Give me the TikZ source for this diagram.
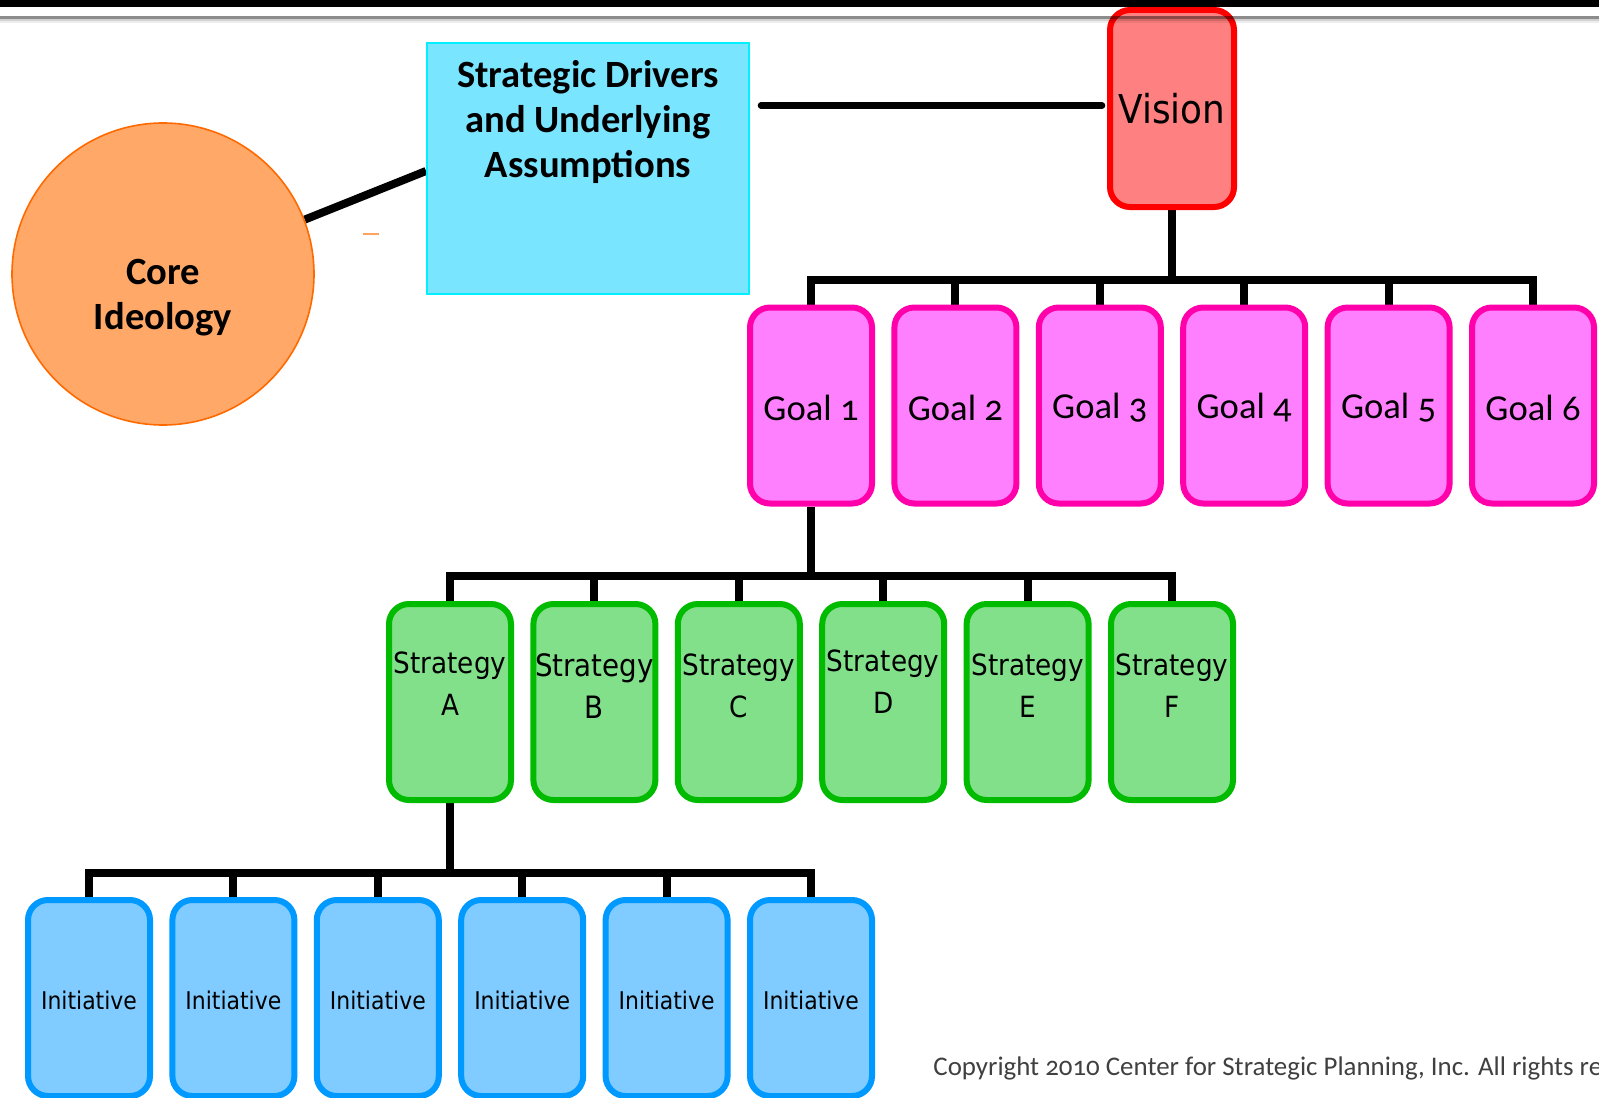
\documentclass[tikz,border=0pt]{standalone}
\usepackage{fontspec}
\setmainfont{Carlito}
\newfontfamily\boxfont[FakeStretch=0.9]{DejaVu Sans}
\newfontfamily\oldfont[Numbers=OldStyle]{Carlito}
\usetikzlibrary{backgrounds}

\definecolor{visionfill}{HTML}{FF8080}
\definecolor{visionline}{HTML}{FF0000}
\definecolor{goalfill}{HTML}{FF80FF}
\definecolor{goalline}{HTML}{FF00AA}
\definecolor{stratfill}{HTML}{82E08A}
\definecolor{stratline}{HTML}{00BB00}
\definecolor{initfill}{HTML}{80CBFF}
\definecolor{initline}{HTML}{0099FF}
\definecolor{driverfill}{HTML}{7AE5FF}
\definecolor{driverline}{HTML}{00F0FF}
\definecolor{corefill}{HTML}{FFA868}
\definecolor{coreline}{HTML}{FF6A00}
\definecolor{copygray}{HTML}{404040}

\begin{document}
\begin{tikzpicture}[x=0.5pt,y=-0.5pt,
  box/.style={rectangle, rounded corners=10pt, line width=3pt,
    minimum width=61pt, minimum height=98pt, inner sep=0pt, align=center},
  visionbox/.style={box, draw=visionline, fill=visionfill,
    minimum width=62pt, minimum height=98.5pt,
    font=\boxfont\fontsize{19.9}{24}\selectfont},
  goalbox/.style={box, draw=goalline, fill=goalfill},
  goaltext/.style={inner sep=0pt, font=\oldfont\fontsize{18.3}{22}\selectfont},
  stratbox/.style={box, draw=stratline, fill=stratfill},
  strattext/.style={inner sep=0pt, align=center,
    font=\boxfont\fontsize{14.6}{21}\selectfont},
  initbox/.style={box, draw=initline, fill=initfill},
  inittext/.style={inner sep=0pt, font=\boxfont\fontsize{12.2}{15}\selectfont},
  link/.style={line width=4pt, black},
  boldtext/.style={inner sep=0pt, align=center,
    font=\bfseries\fontsize{19.3}{22.5}\selectfont},
]
\useasboundingbox (0,0) rectangle (1599,1097);
\clip (0,0) rectangle (1599,1097);

% ---- left: core ideology and strategic drivers
\node[circle, draw=coreline, fill=corefill, line width=0.8pt,
  minimum size=151pt, inner sep=0pt] (core) at (163,274) {};
\node[boldtext] (coretext) at (163,298) {Core\\Ideology};

\node[rectangle, draw=driverline, fill=driverfill, line width=1pt,
  minimum width=161pt, minimum height=125.5pt, inner sep=0pt] (drivers) at (588,168.5) {};
\node[boldtext] (driverstext) at (588,122)
  {Strategic Drivers\\and Underlying\\Assumptions};

\draw[line width=1pt, corefill!90!orange] (363,234) -- (379,234);

% ---- vision
\node[visionbox] (vision) at (1172,108.5) {Vision};

% ---- goals
\foreach \i/\x in {1/811,2/955.4,3/1099.8,4/1244.2,5/1388.6,6/1533}{
  \node[goalbox] (g\i) at (\x,405.5) {};
  \node[goaltext] (g\i text) at ([yshift=-1pt]g\i.center) {Goal \i};
}

% ---- strategies
\foreach \i/\x/\l/\sz/\dy in {1/450/A/14.6/9, 2/594.4/B/15.4/8,
    3/738.8/C/14.6/8, 4/883.2/D/14.6/10, 5/1027.6/E/14.6/8, 6/1172/F/14.6/8}{
  \node[stratbox] (s\i) at (\x,702) {};
  \node[strattext, font=\boxfont\fontsize{\sz}{21}\selectfont]
    (s\i text) at ([yshift=\dy pt]s\i.center) {Strategy\\\l};
}

% ---- initiatives
\foreach \i/\x in {1/89,2/233.4,3/377.8,4/522.2,5/666.6,6/811}{
  \node[initbox] (n\i) at (\x,998) {};
  \node[inittext] (n\i text) at ([yshift=-1pt]n\i.center) {Initiative};
}

% ---- copyright line
\node[anchor=base west, inner sep=0pt, text=copygray,
  font=\oldfont\fontsize{13.45}{16}\selectfont] (copy) at (933,1075)
  {Copyright 2010 Center for Strategic Planning, Inc. All rights reserved.};

% ---- connectors, kept behind the boxes
\begin{scope}[on background layer]
  \fill[white] (0,0) rectangle (1599,1097);
  \coordinate (vbar) at (0,279.5);
  \coordinate (sbar) at (0,576);
  \coordinate (ibar) at (0,873);

  \draw[line width=4pt] (core.21) -- ([yshift=-1.25pt]drivers.west);
  \coordinate (dvL) at ([xshift=5.5pt,yshift=1.5pt]drivers.east |- vision.west);
  \coordinate (dvR) at ([xshift=-2.5pt,yshift=1.5pt]vision.west);
  \draw[line width=3.3pt, line cap=round] (dvL) -- (dvR);

  \draw[link] (vision.south) -- (vision.south |- vbar);
  \draw[link] (g1.north) -- (g1.north |- vbar) -- (g6.north |- vbar) -- (g6.north);
  \foreach \i in {2,...,5} \draw[link] (g\i.north |- vbar) -- (g\i.north);

  \draw[link] (g1.south) -- (g1.south |- sbar);
  \draw[link] (s1.north) -- (s1.north |- sbar) -- (s6.north |- sbar) -- (s6.north);
  \foreach \i in {2,...,5} \draw[link] (s\i.north |- sbar) -- (s\i.north);

  \draw[link] (s1.south) -- (s1.south |- ibar);
  \draw[link] (n1.north) -- (n1.north |- ibar) -- (n6.north |- ibar) -- (n6.north);
  \foreach \i in {2,...,5} \draw[link] (n\i.north |- ibar) -- (n\i.north);
\end{scope}

% ---- page header rule with its shadow
\fill[black] (0,0) rectangle (1599,7.5);
\fill[black, opacity=0.45] (0,16) rectangle (1599,19.5);
\fill[black, opacity=0.18] (0,19.5) rectangle (1599,21.5);
\fill[black, opacity=0.07] (0,21.5) rectangle (1599,23.5);
\end{tikzpicture}
\end{document}
